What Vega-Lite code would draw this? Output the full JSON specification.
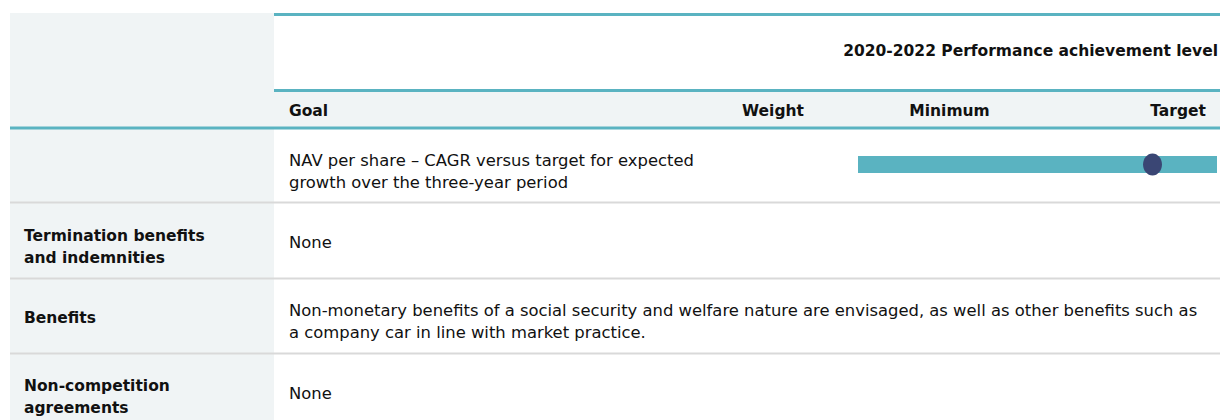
{
  "$schema": "https://vega.github.io/schema/vega-lite/v6.json",
  "width": 1221,
  "height": 420,
  "padding": 0,
  "autosize": {"type": "none"},
  "background": "white",
  "config": {"view": {"stroke": null}, "text": {"font": "DejaVu Sans", "fontSize": 16.4, "color": "#111111"}},
  "datasets": {
    "panels": [
      {"part": "label column", "x": 10, "x2": 274, "y": 13, "y2": 420},
      {"part": "header row", "x": 274, "x2": 1220, "y": 90.5, "y2": 128}
    ],
    "tealRules": [
      {"x": 274, "x2": 1220, "y": 14.5},
      {"x": 274, "x2": 1220, "y": 90.5},
      {"x": 10, "x2": 1220, "y": 128}
    ],
    "greyRules": [
      {"x": 10, "x2": 1220, "y": 202.5},
      {"x": 10, "x2": 1220, "y": 278.5},
      {"x": 10, "x2": 1220, "y": 353.5}
    ],
    "range": [{"goal": "NAV per share", "minimum": 858, "maximum": 1217, "y": 164.5, "achieved": 1152.5}],
    "headLeft": [{"t": "Goal", "x": 289, "y": 116}],
    "headCenter": [
      {"t": "Weight", "x": 773, "y": 116},
      {"t": "Minimum", "x": 949.5, "y": 116}
    ],
    "headRight": [
      {"t": "2020-2022 Performance achievement level", "x": 1218, "y": 56},
      {"t": "Target", "x": 1206, "y": 116}
    ],
    "rowLabels": [
      {"t": "Termination benefits", "x": 24, "y": 241},
      {"t": "and indemnities", "x": 24, "y": 263},
      {"t": "Benefits", "x": 24, "y": 323},
      {"t": "Non-competition", "x": 24, "y": 391},
      {"t": "agreements", "x": 24, "y": 413}
    ],
    "body": [
      {"t": "NAV per share – CAGR versus target for expected", "x": 289, "y": 166},
      {"t": "growth over the three-year period", "x": 289, "y": 188},
      {"t": "None", "x": 289, "y": 248},
      {"t": "Non-monetary benefits of a social security and welfare nature are envisaged, as well as other benefits such as", "x": 289, "y": 316},
      {"t": "a company car in line with market practice.", "x": 289, "y": 338},
      {"t": "None", "x": 289, "y": 399}
    ]
  },
  "layer": [
    {
      "data": {"name": "panels"},
      "mark": {"type": "rect", "color": "#f0f4f5"},
      "encoding": {
        "x": {"field": "x", "type": "quantitative", "scale": {"domain": [0, 1221], "nice": false, "zero": false}, "axis": null},
        "x2": {"field": "x2"},
        "y": {"field": "y", "type": "quantitative", "scale": {"domain": [0, 420], "nice": false, "zero": false, "reverse": true}, "axis": null},
        "y2": {"field": "y2"}
      }
    },
    {
      "data": {"name": "greyRules"},
      "mark": {"type": "rule", "color": "#d9d9d9", "strokeWidth": 2},
      "encoding": {
        "x": {"field": "x", "type": "quantitative"},
        "x2": {"field": "x2"},
        "y": {"field": "y", "type": "quantitative"}
      }
    },
    {
      "data": {"name": "tealRules"},
      "mark": {"type": "rule", "color": "#5ab3c1", "strokeWidth": 3},
      "encoding": {
        "x": {"field": "x", "type": "quantitative"},
        "x2": {"field": "x2"},
        "y": {"field": "y", "type": "quantitative"}
      }
    },
    {
      "data": {"name": "range"},
      "mark": {"type": "rule", "color": "#5ab3c1", "strokeWidth": 17, "strokeCap": "butt"},
      "encoding": {
        "x": {"field": "minimum", "type": "quantitative"},
        "x2": {"field": "maximum"},
        "y": {"field": "y", "type": "quantitative"}
      }
    },
    {
      "data": {"name": "range"},
      "mark": {"type": "point", "filled": true, "color": "#3a4674", "opacity": 1, "size": 484, "shape": "M-0.86,0 A0.86,1 0 1,1 0.86,0 A0.86,1 0 1,1 -0.86,0 Z"},
      "encoding": {
        "x": {"field": "achieved", "type": "quantitative"},
        "y": {"field": "y", "type": "quantitative"}
      }
    },
    {
      "data": {"name": "headLeft"},
      "mark": {"type": "text", "fontWeight": "bold", "fontSize": 15.5, "align": "left", "baseline": "alphabetic"},
      "encoding": {"x": {"field": "x", "type": "quantitative"}, "y": {"field": "y", "type": "quantitative"}, "text": {"field": "t"}}
    },
    {
      "data": {"name": "headCenter"},
      "mark": {"type": "text", "fontWeight": "bold", "fontSize": 15.5, "align": "center", "baseline": "alphabetic"},
      "encoding": {"x": {"field": "x", "type": "quantitative"}, "y": {"field": "y", "type": "quantitative"}, "text": {"field": "t"}}
    },
    {
      "data": {"name": "headRight"},
      "mark": {"type": "text", "fontWeight": "bold", "fontSize": 15.5, "align": "right", "baseline": "alphabetic"},
      "encoding": {"x": {"field": "x", "type": "quantitative"}, "y": {"field": "y", "type": "quantitative"}, "text": {"field": "t"}}
    },
    {
      "data": {"name": "rowLabels"},
      "mark": {"type": "text", "fontWeight": "bold", "fontSize": 15.5, "align": "left", "baseline": "alphabetic"},
      "encoding": {"x": {"field": "x", "type": "quantitative"}, "y": {"field": "y", "type": "quantitative"}, "text": {"field": "t"}}
    },
    {
      "data": {"name": "body"},
      "mark": {"type": "text", "align": "left", "baseline": "alphabetic"},
      "encoding": {"x": {"field": "x", "type": "quantitative"}, "y": {"field": "y", "type": "quantitative"}, "text": {"field": "t"}}
    }
  ]
}
